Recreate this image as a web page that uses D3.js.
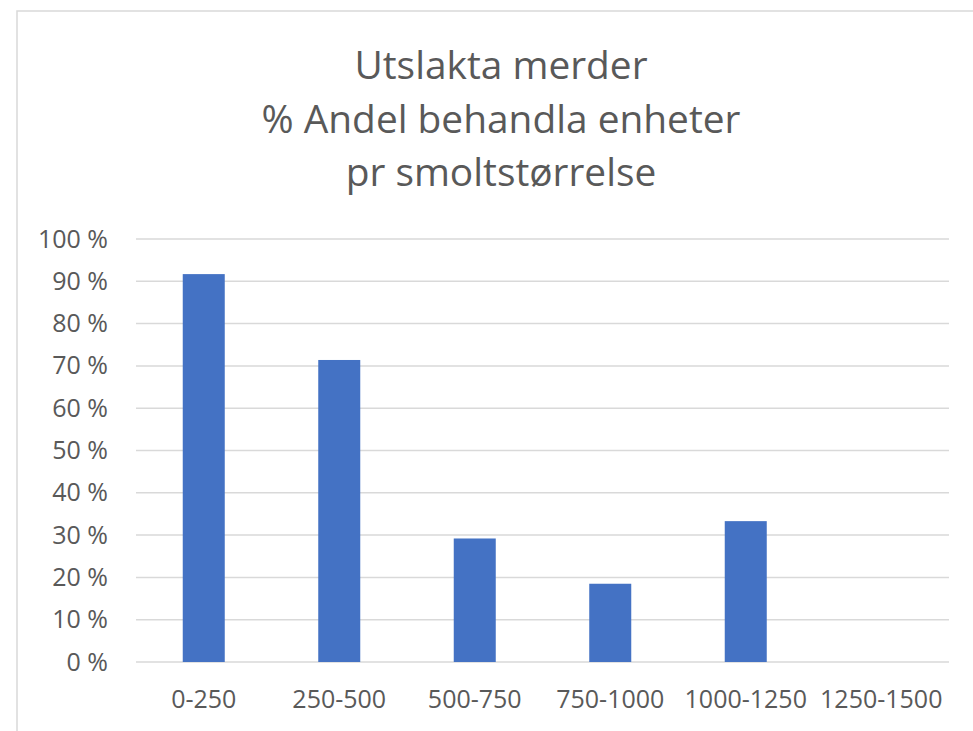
<!DOCTYPE html>
<html>
<head>
<meta charset="utf-8">
<script src="https://cdn.jsdelivr.net/npm/d3@7"></script>
<style>
  body { margin: 0; background: #fff; }
  svg text { font-family: "Open Sans", sans-serif; fill: #595959; }
</style>
</head>
<body>
<svg id="chart" width="973" height="731"></svg>
<script>
// chart data
const titleLines = ["Utslakta merder", "% Andel behandla enheter", "pr smoltstørrelse"];
const categories = ["0-250", "250-500", "500-750", "750-1000", "1000-1250", "1250-1500"];
const shares = [91.7, 71.4, 29.2, 18.5, 33.3, 0];
const yTicks = [0, 10, 20, 30, 40, 50, 60, 70, 80, 90, 100];

const svg = d3.select("svg#chart");
const margin = {left: 136, right: 24, top: 239, bottom: 69};
const width = 973, height = 731;
const labelSize = 25;

// chart area border (cropped on right/bottom)
svg.append("rect")
  .attr("x", 17).attr("y", 11)
  .attr("width", 980).attr("height", 740)
  .attr("fill", "#fff")
  .attr("stroke", "#d9d9d9").attr("stroke-width", 1.5);

const x = d3.scaleBand()
  .domain(categories)
  .range([margin.left, width - margin.right])
  .paddingInner(0.69)
  .paddingOuter(0.345);

const y = d3.scaleLinear()
  .domain([0, 100])
  .range([662, margin.top]);

// gridlines
svg.append("g")
  .selectAll("line")
  .data(yTicks)
  .join("line")
  .attr("x1", margin.left)
  .attr("x2", width - margin.right)
  .attr("y1", d => y(d))
  .attr("y2", d => y(d))
  .attr("stroke", "#d9d9d9")
  .attr("stroke-width", 1.5);

// y axis labels
const yAxis = svg.append("g")
  .attr("transform", `translate(${margin.left - 28},0)`)
  .call(d3.axisLeft(y).tickValues(yTicks).tickSize(0).tickPadding(0).tickFormat(d => d + " %"));
yAxis.select(".domain").remove();

// x axis labels
const xAxis = svg.append("g")
  .attr("transform", `translate(0,${y(0)})`)
  .call(d3.axisBottom(x).tickSize(0).tickPadding(28));
xAxis.select(".domain").remove();

svg.selectAll(".tick text")
  .attr("font-size", labelSize)
  .attr("fill", "#595959")
  .style("font-family", "'Open Sans', sans-serif");

// bars
svg.append("g")
  .selectAll("rect")
  .data(categories.map((c, i) => ({cat: c, val: shares[i]})))
  .join("rect")
  .attr("x", d => x(d.cat))
  .attr("y", d => y(d.val))
  .attr("width", x.bandwidth())
  .attr("height", d => y(0) - y(d.val))
  .attr("fill", "#4472c4");

// title
const title = svg.append("g")
  .selectAll("text")
  .data(titleLines)
  .join("text")
  .attr("x", 501)
  .attr("y", (d, i) => 79 + i * 53.5)
  .attr("text-anchor", "middle")
  .attr("font-size", 36)
  .text(d => d);

// fit the title width to the original (longest line ~479px)
const w2 = title.nodes()[1].getComputedTextLength();
title.attr("font-size", 36 * 479 / w2);
</script>
</body>
</html>
